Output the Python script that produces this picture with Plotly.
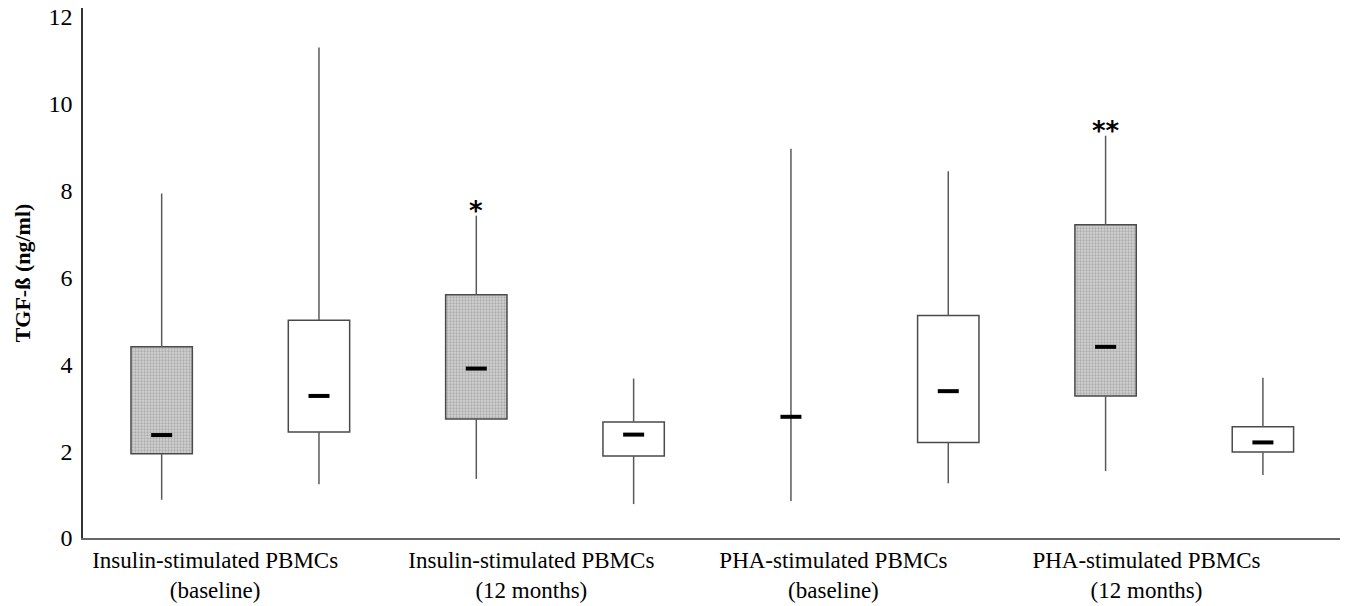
import plotly.graph_objects as go

# ---- data ----
group_labels = [
    "Insulin-stimulated PBMCs<br>(baseline)",
    "Insulin-stimulated PBMCs<br>(12 months)",
    "PHA-stimulated PBMCs<br>(baseline)",
    "PHA-stimulated PBMCs<br>(12 months)",
]
label_pos = [0.34, 2.35, 4.27, 6.26]

box_pos = [0, 1, 2, 3, 4, 5, 6, 7]
box_kind = ["gray", "white", "gray", "white", "gray", "white", "gray", "white"]
q1 = [1.94, 2.44, 2.74, 1.89, None, 2.20, 3.27, 1.98]
q3 = [4.40, 5.01, 5.60, 2.67, None, 5.12, 7.21, 2.56]
median = [2.37, 3.27, 3.90, 2.38, 2.79, 3.38, 4.40, 2.20]
lower = [0.88, 1.24, 1.36, 0.78, 0.85, 1.26, 1.54, 1.45]
upper = [7.93, 11.29, 7.42, 3.67, 8.96, 8.44, 9.26, 3.69]

sig_pos = [2, 6]
sig_text = ["*", "**"]

y_ticks = [0, 2, 4, 6, 8, 10, 12]

SERIF = "Liberation Serif, Times New Roman, serif"
BOX_W = 0.39

fig = go.Figure()

# whiskers (drawn outside the boxes)
wx, wy = [], []
for x, lo, a, b, hi in zip(box_pos, lower, q1, q3, upper):
    if a is None:
        wx += [x, x, None]
        wy += [lo, hi, None]
    else:
        wx += [x, x, None, x, x, None]
        wy += [lo, a, None, b, hi, None]
fig.add_trace(go.Scatter(x=wx, y=wy, mode="lines",
                         line=dict(color="#5a5a5a", width=1.5),
                         hoverinfo="skip", showlegend=False))

# boxes
for kind in ["gray", "white"]:
    xs = [x for x, k, a in zip(box_pos, box_kind, q1) if k == kind and a is not None]
    bases = [a for k, a in zip(box_kind, q1) if k == kind and a is not None]
    heights = [b - a for k, a, b in zip(box_kind, q1, q3) if k == kind and a is not None]
    if kind == "gray":
        marker = dict(color="#d2d2d2",
                      pattern=dict(shape=".", fgcolor="#858585", size=3,
                                   solidity=0.45, fillmode="overlay"),
                      line=dict(color="#4a4a4a", width=1.5))
    else:
        marker = dict(color="white", line=dict(color="#4a4a4a", width=1.5))
    fig.add_trace(go.Bar(x=xs, y=heights, base=bases, width=BOX_W,
                         marker=marker, showlegend=False, hoverinfo="skip"))

# medians
fig.add_trace(go.Scatter(x=box_pos, y=median, mode="markers",
                         marker=dict(symbol="line-ew", size=15,
                                     line=dict(color="black", width=4)),
                         hoverinfo="skip", showlegend=False))

# significance asterisks
for p, t in zip(sig_pos, sig_text):
    fig.add_annotation(x=box_pos[p], y=upper[p], text="<b>" + t + "</b>",
                       showarrow=False, yanchor="bottom", yshift=-12,
                       font=dict(family="DejaVu Sans", size=26, color="black"))

fig.update_layout(
    width=1345, height=606,
    margin=dict(l=83, r=5, t=8, b=68),
    paper_bgcolor="white", plot_bgcolor="white",
    barmode="overlay",
    font=dict(family=SERIF, size=22, color="black"),
    xaxis=dict(range=[-0.5, 7.49], tickvals=label_pos, ticktext=group_labels,
               showgrid=False, zeroline=False, ticks="", automargin=False,
               ticklabelstandoff=0,
               showline=True, linecolor="#666666", linewidth=2,
               tickfont=dict(family=SERIF, size=23, color="black")),
    yaxis=dict(range=[0, 12.2], tickvals=y_ticks,
               showgrid=False, zeroline=False, ticks="", automargin=False,
               ticklabelstandoff=4,
               showline=True, linecolor="#333333", linewidth=1.5,
               tickfont=dict(family=SERIF, size=24, color="black")),
)
fig.update_yaxes(title=dict(text="<b>TGF-ß (ng/ml)</b>", standoff=12,
                            font=dict(family=SERIF, size=22, color="black")))

fig.write_html("out.html")
